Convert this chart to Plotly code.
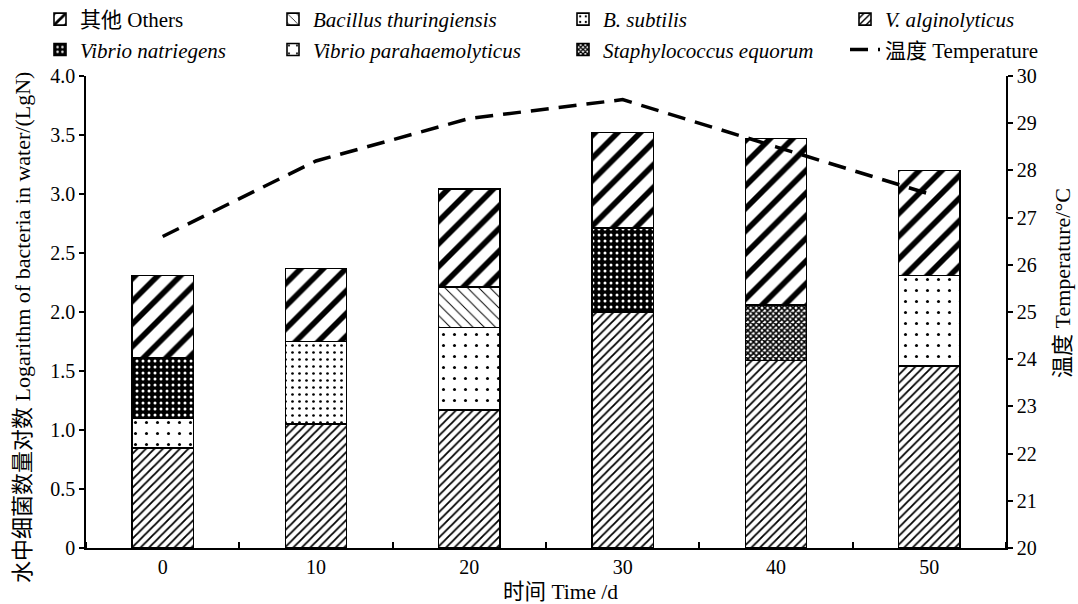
import plotly.graph_objects as go

days = [0, 10, 20, 30, 40, 50]
v_alginolyticus = [0.85, 1.05, 1.17, 2.00, 1.59, 1.54]
v_parahaemolyticus = [0.25, None, 0.70, None, None, 0.77]
b_subtilis = [None, 0.70, None, None, None, None]
v_natriegens = [0.51, None, None, 0.71, None, None]
s_equorum = [None, None, None, None, 0.47, None]
b_thuringiensis = [None, None, 0.34, None, None, None]
others = [0.70, 0.62, 0.83, 0.81, 1.41, 0.89]
temperature = [26.6, 28.2, 29.1, 29.5, 28.5, 27.5]

y_ticks = [0, 0.5, 1.0, 1.5, 2.0, 2.5, 3.0, 3.5, 4.0]
y_ticktext = ["0", "0.5", "1.0", "1.5", "2.0", "2.5", "3.0", "3.5", "4.0"]
t_ticks = list(range(20, 31))

FONT = "Liberation Serif, Times New Roman, Noto Sans CJK SC, serif"
W, H = 1078, 604
L, R, T, B = 86, 72, 76, 56
PW, PH = W - L - R, H - T - B

def px_x(px):
    return (px - L) / PW

def px_y(py):
    return (H - B - py) / PH

fig = go.Figure()

def bar(name, vals, pattern, legend, rank, bg="white", fg="black"):
    fig.add_trace(go.Bar(
        x=days, y=vals, name=name, width=4,
        marker=dict(color=bg, line=dict(color="black", width=1.6),
                    pattern=dict(fillmode="replace", bgcolor=bg, fgcolor=fg, **pattern)),
        legend=legend, legendrank=rank,
    ))

bar("<i>V. alginolyticus</i>", v_alginolyticus, dict(shape="/", size=6, solidity=0.3), "legend4", 1)
bar("<i>Vibrio parahaemolyticus</i>", v_parahaemolyticus, dict(shape=".", size=11, solidity=0.06), "legend2", 2)
bar("<i>B. subtilis</i>", b_subtilis, dict(shape=".", size=7, solidity=0.12), "legend3", 1)
bar("<i>Vibrio natriegens</i>", v_natriegens, dict(shape=".", size=6, solidity=0.2), "legend", 2, bg="black", fg="white")
bar("<i>Staphylococcus equorum</i>", s_equorum, dict(shape="x", size=4, solidity=0.65), "legend3", 2)
bar("<i>Bacillus thuringiensis</i>", b_thuringiensis, dict(shape="\\", size=8, solidity=0.12), "legend2", 1)
bar("其他 Others", others, dict(shape="/", size=16, solidity=0.35), "legend", 1)

fig.add_trace(go.Scatter(
    x=days, y=temperature, yaxis="y2", mode="lines", name="温度 Temperature",
    line=dict(color="black", width=3.5, dash="18px,10px"),
    legend="legend4", legendrank=2,
))

leg_common = dict(y=px_y(-1), yanchor="top", xanchor="left",
                  font=dict(family=FONT, size=21, color="black"), bgcolor="rgba(0,0,0,0)",
                  tracegroupgap=0, orientation="v", traceorder="normal")

fig.update_layout(
    width=W, height=H,
    margin=dict(l=L, r=R, t=T, b=B, autoexpand=False),
    barmode="stack",
    plot_bgcolor="white", paper_bgcolor="white",
    font=dict(family=FONT, size=20, color="black"),
    legend=dict(x=px_x(40), **leg_common),
    legend2=dict(x=px_x(273), **leg_common),
    legend3=dict(x=px_x(563), **leg_common),
    legend4=dict(x=px_x(845), **leg_common),
    xaxis=dict(
        range=[-5, 55], tickvals=days, ticktext=[str(d) for d in days],
        ticks="", showline=True, linecolor="black", linewidth=1.5, showgrid=False, zeroline=False,
        minor=dict(ticks="inside", tick0=5, dtick=10, ticklen=6, tickcolor="black", tickwidth=1.5),
        tickfont=dict(size=20), automargin=False,
    ),
    yaxis=dict(
        range=[0, 4.0], tickvals=y_ticks, ticktext=y_ticktext,
        ticks="outside", ticklen=5, tickwidth=1.5, tickcolor="black",
        showline=True, linecolor="black", linewidth=1.5, showgrid=False, zeroline=False,
        tickfont=dict(size=20), automargin=False,
    ),
    yaxis2=dict(
        range=[20, 30], tickvals=t_ticks, overlaying="y", side="right",
        ticks="outside", ticklen=5, tickwidth=1.5, tickcolor="black",
        showline=True, linecolor="black", linewidth=1.5, showgrid=False, zeroline=False,
        tickfont=dict(size=20), automargin=False,
    ),
    annotations=[
        dict(text="时间 Time /d", xref="paper", yref="paper", x=px_x(560), y=px_y(592),
             xanchor="center", yanchor="middle", showarrow=False, font=dict(size=21.5)),
        dict(text="水中细菌数量对数 Logarithm of bacteria in water/(LgN)", xref="paper", yref="paper",
             x=px_x(22), y=px_y(328), xanchor="center", yanchor="middle", textangle=-90,
             showarrow=False, font=dict(size=22)),
        dict(text="温度 Temperature/°C", xref="paper", yref="paper",
             x=px_x(1062), y=px_y(283), xanchor="center", yanchor="middle", textangle=-90,
             showarrow=False, font=dict(size=22)),
    ],
)

fig.write_html("out.html", config={"displayModeBar": False},
               post_script="document.body.style.margin='0px';")
